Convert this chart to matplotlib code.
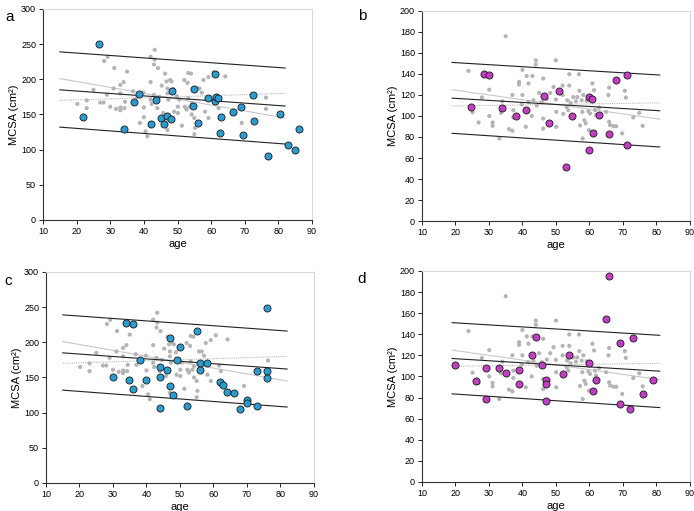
import matplotlib
matplotlib.use("Agg")
import matplotlib.pyplot as plt
import numpy as np

plt.rcParams['font.family'] = ['Liberation Sans', 'DejaVu Sans']

# ---------------- data: male reference group (panels a, c) ----------------
ref_m_age = [20.2, 25, 23, 23, 28.2, 29.2, 27, 28, 29, 31.2, 31, 30, 31.7, 33, 33, 33, 33, 34, 34.2, 35,
             34.4, 36.8, 37, 38, 38.8, 39.8, 40, 40, 40.5, 41, 42, 42, 42, 42.3, 43, 43.2, 43.2, 43, 44.2, 44,
             44.6, 45.3, 45.8, 46.3, 46.7, 47, 47, 47.3, 47, 47.8, 48.2, 48.8, 49, 49.8, 50.1, 50.1, 50.5, 51.3,
             52, 52.2, 52.5, 52.7, 53, 53.2, 53.2, 53.7, 54, 54.2, 54.2, 55, 55.2, 55, 55.7, 56.5, 57.2, 57.7,
             58.2, 59.2, 59.2, 60.7, 61.7, 62.2, 64.2, 69.1, 76.3, 76.3]
ref_m_val = [165, 185, 170, 159, 226, 232, 167, 167, 178, 216, 187, 161, 158, 192, 180, 160, 156, 196, 159, 211,
             168, 183, 168, 175, 138, 181, 160, 146, 126, 119, 232, 196, 171, 165, 221, 242, 228, 178, 216, 159,
             175, 191, 152, 208, 197, 187, 180, 171, 128, 199, 197, 186, 154, 176, 161, 152, 171, 134,
             199, 161, 159, 157, 195, 209, 173, 161, 208, 166, 150, 145, 131, 122, 187, 187, 181, 199,
             154, 203, 145, 210, 167, 159, 204, 138, 174, 158]

a_age = [22, 26.5, 34, 37, 38.5, 42, 43.5, 45, 46, 47, 48, 48.5, 54.5, 55, 56, 59, 61, 61, 61.5, 62,
         62.5, 63, 66.5, 68.8, 69.5, 72.3, 72.8, 77, 80.5, 83, 85, 86]
a_val = [146, 250, 130, 168, 179, 136, 170, 145, 136, 148, 144, 183, 162, 186, 138, 173, 208, 169, 175, 173,
         124, 147, 154, 161, 121, 178, 141, 91, 150, 106, 100, 129]

c_age = [30.1, 33.9, 34.9, 36.1, 36.1, 38.1, 40, 44, 44, 44, 46, 47, 47, 48, 49, 50, 52, 55, 56, 56,
         58, 62, 63, 64, 66, 68, 70, 70, 73, 73, 76, 76, 76]
c_val = [150, 228, 146, 226, 133, 175, 147, 165, 150, 107, 161, 206, 138, 125.6, 175, 193, 110, 216.6, 170, 160.7,
         170, 143.6, 139.8, 129, 128, 105.7, 117.5, 113.7, 159.7, 109, 248.8, 159.7, 149.3]

# regression / prediction lines (endpoint values), male
m_line_age = [15, 82]
m_mid = [185, 162]
m_upper = [239, 216]
m_lower = [132, 108]
m_fit1 = [201, 145]
m_fit2 = [170, 180]

# ---------------- data: female reference group (panels b, d) ----------------
ref_f_age = [23.9, 25.1, 26.9, 27.9, 30.1, 30.1, 31.1, 31.1, 33.1, 33.6, 34, 35, 36, 37, 37, 37.3, 37.3, 39, 39,
             40, 40, 39.8, 41, 41.3, 41.8, 41.8, 43, 42.8, 43.3, 44, 44, 44.3, 45, 45.8, 46.2, 46.2, 46.2, 47.3,
             48.3, 49.3, 50, 50, 50.1, 50.1, 52, 52, 52.2, 53.2, 53.4, 53.7, 54, 54, 54.4, 55.2, 56, 56.4, 56.9,
             57, 57.2, 57.7, 57.9, 58.2, 58, 58.5, 58.9, 59.2, 59.7, 59.9, 60.2, 60.9, 61.4, 61.7, 62, 62.9,
             65, 65.7, 65.9, 65.9, 66.2, 67.2, 68, 69.8, 70.6, 70.9, 73.1, 74.9, 75.9]
ref_f_val = [143, 103.6, 93.8, 117.6, 125, 100, 93.8, 90.6, 78.6, 103, 114, 176, 87.5, 86, 120, 98.6, 105.5, 130, 132.5,
             144, 120, 111, 89.7, 138, 131, 113.5, 138, 100, 115, 153, 149, 110, 122, 113.5, 135.7, 97.6, 88, 116,
             122, 127.7, 153, 115.7, 89.7, 104, 129, 120, 102, 108.7, 115, 105.5, 139.8, 129, 112.5, 118, 114, 118, 139.8,
             124, 91, 115, 104, 120, 78.6, 96, 93, 114.4, 104.6, 86.5, 102.4, 131, 124.6, 105.5, 100.8, 108,
             104, 120, 127, 94.5, 91.3, 90.3, 90.3, 83.4, 124, 117.6, 98.6, 103, 90.6]

b_age = [24.7, 28.6, 30.1, 34, 38, 41, 46.5, 48, 51, 53, 54.7, 60, 60.7, 61.2, 62.9, 65.9, 68, 71.1, 71.1, 60]
b_val = [109, 140, 139, 108, 100, 106, 119.5, 93, 123.6, 51.7, 100, 118.5, 116.6, 84, 101, 82.4, 134.7, 139.5, 72, 67.8]

d_age = [20, 26, 29, 29, 33, 35.1, 39, 39, 43, 44, 46, 47, 47, 47, 52, 54, 60, 61, 62, 65, 66, 69, 69, 72, 73, 76, 79]
d_val = [110.8, 96, 108, 78.5, 108, 103, 106, 92.7, 120.2, 137, 110.8, 97, 92.4, 76.6, 102.2, 120.3, 113, 86, 97,
         154, 195.6, 132, 74, 69.6, 136, 83.2, 96.5]

f_line_age = [19, 81]
f_mid = [117, 105]
f_upper = [151, 139]
f_lower = [83.5, 70.5]
f_fit1 = [125, 97]
f_fit2 = [109.5, 112.5]

x_ticks = [10, 20, 30, 40, 50, 60, 70, 80, 90]

BLUE = '#2b9ccf'
PURPLE = '#c23fc4'
GREY = '#b4b4b4'

fig = plt.figure(figsize=(6.94, 5.11), dpi=100)

panels = [
    ('a', [0.062, 0.5695, 0.3876, 0.413], ref_m_age, ref_m_val, a_age, a_val, BLUE,
     m_line_age, m_mid, m_upper, m_lower, m_fit1, m_fit2, 300, 50, (5, 10)),
    ('b', [0.608, 0.5675, 0.386, 0.411], ref_f_age, ref_f_val, b_age, b_val, PURPLE,
     f_line_age, f_mid, f_upper, f_lower, f_fit1, f_fit2, 200, 20, (358, 9)),
    ('c', [0.0663, 0.0548, 0.386, 0.413], ref_m_age, ref_m_val, c_age, c_val, BLUE,
     m_line_age, m_mid, m_upper, m_lower, m_fit1, m_fit2, 300, 50, (4, 274)),
    ('d', [0.608, 0.0568, 0.386, 0.413], ref_f_age, ref_f_val, d_age, d_val, PURPLE,
     f_line_age, f_mid, f_upper, f_lower, f_fit1, f_fit2, 200, 20, (357, 272)),
]

for (lab, rect, rx, ry, hx, hy, col, lx, mid, up, lo, f1, f2, ymax, ystep, lpos) in panels:
    ax = fig.add_axes(rect)
    ax.plot(lx, f1, color='#c8c8c8', lw=0.8, zorder=1)
    ax.plot(lx, f2, color='#b8b8b8', lw=0.8, ls=(0, (1, 1)), zorder=1)
    ax.scatter(rx, ry, s=9, color=GREY, edgecolors='none', zorder=2)
    for yy in (mid, up, lo):
        ax.plot(lx, yy, color='#222222', lw=0.8, zorder=3)
    ax.scatter(hx, hy, s=26, color=col, edgecolors='#1a1a1a', linewidths=0.6, zorder=4)
    ax.set_xlim(10, 90)
    ax.set_ylim(0, ymax)
    ax.set_xticks(x_ticks)
    ax.set_yticks(np.arange(0, ymax + 1, ystep))
    ax.tick_params(labelsize=6.5, length=3, width=0.6, direction='out', pad=2)
    for s in ('left', 'bottom'):
        ax.spines[s].set_color('#333333')
        ax.spines[s].set_linewidth(0.8)
    for s in ('top', 'right'):
        ax.spines[s].set_color('#d8d8d8')
        ax.spines[s].set_linewidth(0.8)
    ax.set_xlabel('age', fontsize=8, labelpad=2)
    ax.set_ylabel('MCSA (cm²)', fontsize=8, labelpad=1.5)
    fig.text(lpos[0] / 694, 1 - lpos[1] / 511, lab, fontsize=11, ha='left', va='top')

fig.savefig('out.png', dpi=100)
